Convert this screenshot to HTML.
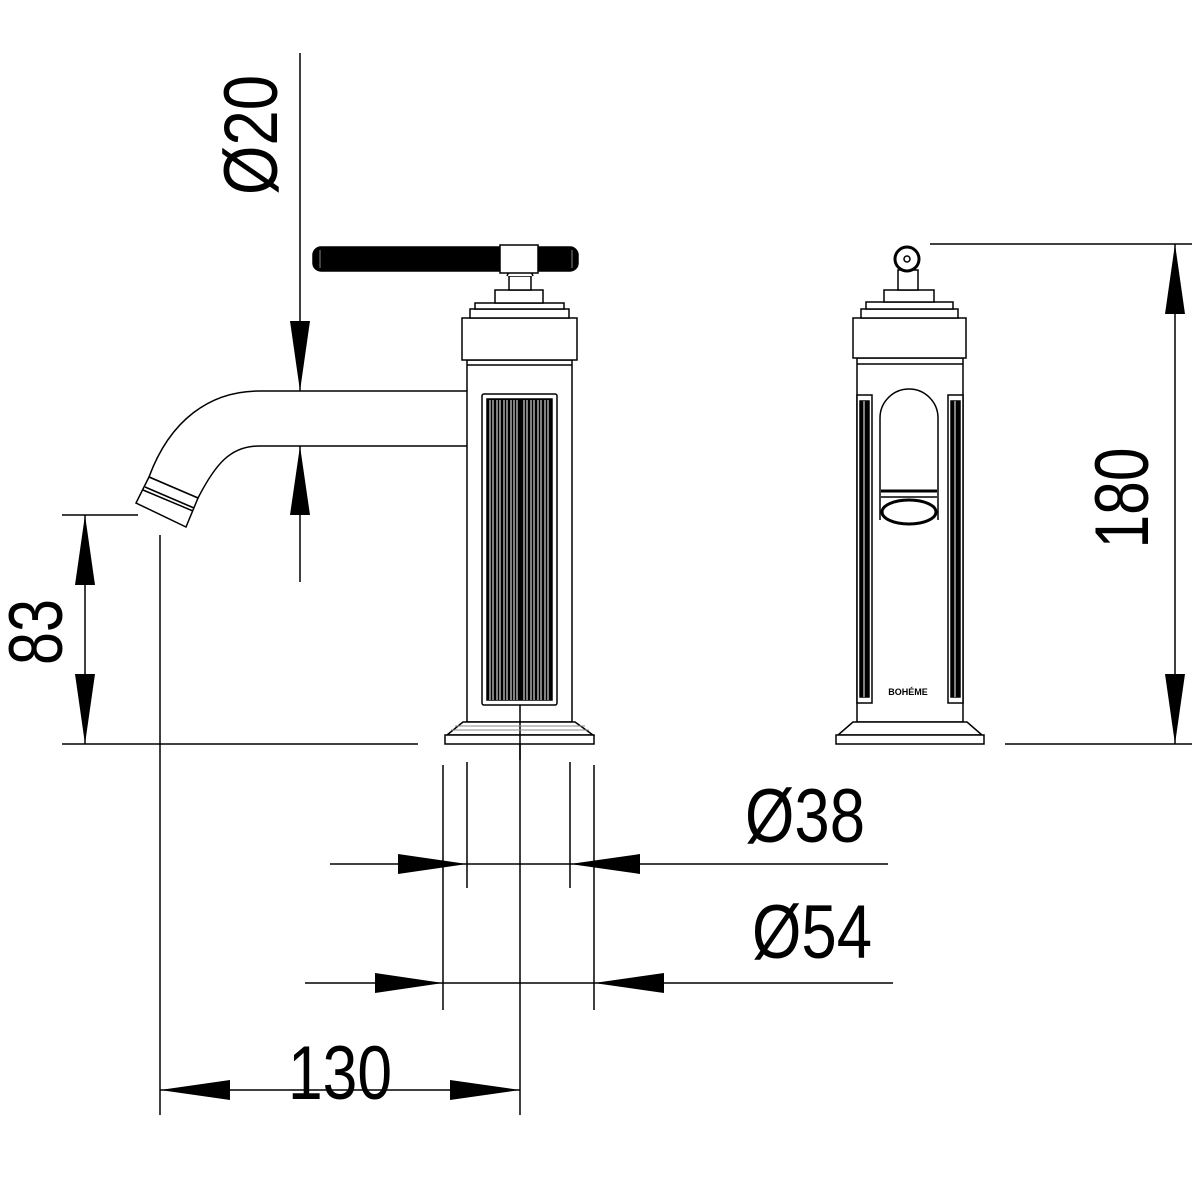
<!DOCTYPE html>
<html><head><meta charset="utf-8"><style>html,body{margin:0;padding:0;background:#fff}svg{display:block}</style></head>
<body>
<svg width="1200" height="1200" viewBox="0 0 1200 1200" xmlns="http://www.w3.org/2000/svg" font-family="Liberation Sans, sans-serif">
<rect width="1200" height="1200" fill="#fff"/>
<g stroke="#000" stroke-width="1.5" fill="none">
<line x1="300" y1="53" x2="300" y2="582"/>
<line x1="85" y1="515" x2="85" y2="744"/>
<line x1="62" y1="515" x2="138" y2="515"/>
<line x1="62" y1="744" x2="418" y2="744"/>
<line x1="1175" y1="244" x2="1175" y2="744"/>
<line x1="930" y1="244" x2="1192" y2="244"/>
<line x1="1005" y1="744" x2="1192" y2="744"/>
<line x1="467" y1="762" x2="467" y2="888"/>
<line x1="570" y1="762" x2="570" y2="888"/>
<line x1="330" y1="864" x2="888" y2="864"/>
<line x1="443" y1="765" x2="443" y2="1010"/>
<line x1="594" y1="765" x2="594" y2="1010"/>
<line x1="305" y1="983" x2="893" y2="983"/>
<line x1="160" y1="535" x2="160" y2="1115"/>
<line x1="520" y1="744" x2="520" y2="1115"/>
<line x1="160" y1="1090" x2="520" y2="1090"/>
</g>
<g fill="#000">
<polygon points="300,391 290,321 310,321"/>
<polygon points="300,446 290,515 310,515"/>
<polygon points="85,515 75,585 95,585"/>
<polygon points="85,744 75,674 95,674"/>
<polygon points="1175,244 1165,314 1185,314"/>
<polygon points="1175,744 1165,674 1185,674"/>
<polygon points="467,864 398,854 398,874"/>
<polygon points="570,864 640,854 640,874"/>
<polygon points="443,983 375,973 375,993"/>
<polygon points="594,983 664,973 664,993"/>
<polygon points="160,1090 230,1080 230,1100"/>
<polygon points="520,1090 450,1080 450,1100"/>
</g>
<g fill="#000" font-size="76">
<text transform="translate(277,135) rotate(-90)" text-anchor="middle" textLength="120" lengthAdjust="spacingAndGlyphs">Ø20</text>
<text transform="translate(62,632) rotate(-90)" text-anchor="middle" textLength="66" lengthAdjust="spacingAndGlyphs">83</text>
<text transform="translate(1148,498) rotate(-90)" text-anchor="middle" textLength="101" lengthAdjust="spacingAndGlyphs">180</text>
<text x="745" y="842" textLength="120" lengthAdjust="spacingAndGlyphs">Ø38</text>
<text x="752" y="958" textLength="120" lengthAdjust="spacingAndGlyphs">Ø54</text>
<text x="288" y="1099" textLength="104" lengthAdjust="spacingAndGlyphs">130</text>
</g>
<!-- LEFT TAP -->
<g stroke="#000" stroke-width="1.5" fill="#fff">
<path d="M467,391 L259,391 C210,391 170,420 149,477 L198,498 C215,465 230,446 259,446 L467,446 C474,430 474,408 467,391 Z"/>
<polygon points="149,477 198,498 186,527 136,503"/>
<line x1="145" y1="487" x2="194" y2="508"/>
<line x1="143" y1="490" x2="193" y2="511"/>
<rect x="467" y="360" width="105" height="362"/>
<line x1="467" y1="365" x2="572" y2="365"/>
<rect x="482" y="394" width="75" height="311" rx="2"/>
<rect x="487" y="399" width="65" height="301" fill="#000"/>
<polygon points="463,722 575,722 593,735 447,735"/>
<rect x="445" y="735" width="149" height="9"/>
<rect x="462" y="318" width="115" height="42"/>
<rect x="470" y="309" width="99" height="9"/>
<rect x="475" y="303" width="89" height="6"/>
<rect x="495" y="290" width="48" height="13"/>
<rect x="509" y="276" width="22" height="14"/>
<path d="M507,276 C510,266 530,266 533,276"/>
<rect x="313" y="247" width="265" height="24" rx="8" fill="#000"/>
<rect x="500" y="245" width="38" height="28"/>
</g>
<g stroke="#fff" stroke-width="1">
<line x1="490" y1="400" x2="490" y2="700"/><line x1="493" y1="400" x2="493" y2="700"/><line x1="497" y1="400" x2="497" y2="700"/><line x1="500" y1="400" x2="500" y2="700"/><line x1="504" y1="400" x2="504" y2="700"/><line x1="507" y1="400" x2="507" y2="700"/><line x1="511" y1="400" x2="511" y2="700"/><line x1="514" y1="400" x2="514" y2="700"/><line x1="517" y1="400" x2="517" y2="700"/><line x1="524" y1="400" x2="524" y2="700"/><line x1="527" y1="400" x2="527" y2="700"/><line x1="531" y1="400" x2="531" y2="700"/><line x1="534" y1="400" x2="534" y2="700"/><line x1="538" y1="400" x2="538" y2="700"/><line x1="541" y1="400" x2="541" y2="700"/><line x1="545" y1="400" x2="545" y2="700"/><line x1="548" y1="400" x2="548" y2="700"/>
</g>
<line x1="520" y1="705" x2="520" y2="760" stroke="#000" stroke-width="1.5"/>
<g stroke="#888" stroke-width="1">
<line x1="455" y1="726" x2="585" y2="726"/><line x1="451" y1="730" x2="589" y2="730"/>
<line x1="320" y1="250" x2="320" y2="268"/><line x1="572" y1="250" x2="572" y2="268"/>
</g>
<!-- RIGHT TAP -->
<g stroke="#000" stroke-width="1.5" fill="#fff">
<rect x="857" y="358" width="106" height="364"/>
<line x1="857" y1="364" x2="963" y2="364"/>
<rect x="853" y="318" width="113" height="40"/>
<rect x="861" y="309" width="97" height="9"/>
<rect x="866" y="302" width="87" height="7"/>
<rect x="884" y="290" width="50" height="12"/>
<rect x="898" y="270" width="20" height="20"/>
<circle cx="907" cy="259" r="12" stroke-width="3"/>
<circle cx="907" cy="259" r="3"/>
<path d="M880,520 L880,418 A29,29 0 0 1 938,418 L938,520"/>
<ellipse cx="909" cy="512" rx="27" ry="12" stroke-width="3"/>
<line x1="881" y1="491" x2="937" y2="491" stroke-width="3"/>
<line x1="881" y1="497" x2="937" y2="497"/>
<rect x="857" y="395" width="15" height="308" fill="#fff"/>
<rect x="948" y="395" width="15" height="308" fill="#fff"/>
<rect x="860" y="401" width="9" height="296" fill="#000"/>
<rect x="951" y="401" width="9" height="296" fill="#000"/>
<polygon points="853,722 967,722 982,735 838,735"/>
<rect x="836" y="735" width="148" height="9"/>
</g>
<g stroke="#fff" stroke-width="1"><line x1="864" y1="401" x2="864" y2="697"/><line x1="955" y1="401" x2="955" y2="697"/></g>
<text x="908" y="695" text-anchor="middle" font-size="9" font-weight="bold" fill="#000">BOHÉME</text>
</svg>
</body></html>
